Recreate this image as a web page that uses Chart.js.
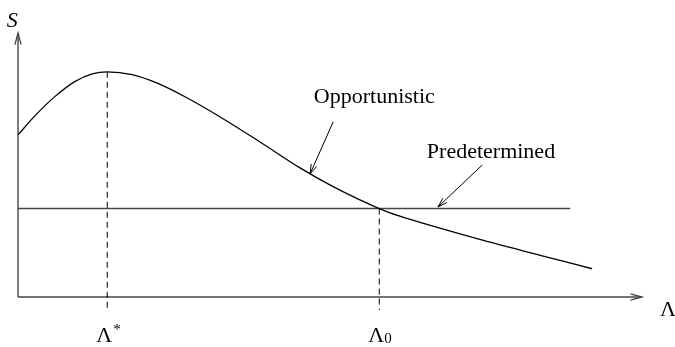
<!DOCTYPE html>
<html>
<head>
<meta charset="utf-8">
<script src="https://cdn.jsdelivr.net/npm/chart.js@4/dist/chart.umd.min.js"></script>
<style>
    html, body { margin: 0; padding: 0; background: #ffffff; }
    #wrap { width: 675px; height: 347px; position: relative; }
</style>
</head>
<body>
<div id="wrap"><canvas id="chart"></canvas></div>
<script>
// Opportunistic curve S(Λ) (axis units 0..10)
const lambdaValues = [0, 0.27, 0.59, 0.91, 1.19, 1.43, 1.83, 2.24, 2.72, 3.24, 3.88, 4.52, 5.05, 5.79, 6.12, 6.65, 7.40, 8.37, 9.20];
const opportunisticS = [6.14, 6.86, 7.59, 8.16, 8.45, 8.53, 8.42, 8.09, 7.53, 6.82, 5.87, 4.89, 4.18, 3.35, 3.06, 2.68, 2.18, 1.58, 1.07];

// Predetermined is flat
const predeterminedS = 3.35;
const predeterminedEnd = 8.85;

// Marked points on the Λ axis
const lambdaStar = 1.43;
const lambdaZero = 5.79;
const dashBottom = -0.49;

const axisMax = 10;

function pairs(xs, ys) {
    return xs.map(function (x, i) { return { x: x, y: ys[i] }; });
}

const lineFont = '"Liberation Serif", "DejaVu Serif", serif';

// Text labels and pointer arrows, in data units
const textLabels = [
    { text: 'Opportunistic', x: 5.71, y: 7.35, align: 'center', style: '' },
    { text: 'Predetermined', x: 7.58, y: 5.27, align: 'center', style: '' },
    { text: 'S', x: -0.18, y: 10.23, align: 'left', style: 'italic ' },
    { text: 'Λ', x: 10.29, y: -0.72, align: 'left', style: '' }
];
const pointerArrows = [
    { from: [5.05, 6.63], to: [4.68, 4.66] },
    { from: [7.44, 5.00], to: [6.73, 3.41] }
];

function openHead(ctx, x1, y1, x2, y2, len, spread) {
    const a = Math.atan2(y2 - y1, x2 - x1);
    ctx.beginPath();
    ctx.moveTo(x2 - len * Math.cos(a - spread), y2 - len * Math.sin(a - spread));
    ctx.lineTo(x2, y2);
    ctx.lineTo(x2 - len * Math.cos(a + spread), y2 - len * Math.sin(a + spread));
    ctx.stroke();
}

const annotations = {
    id: 'annotations',
    afterDatasetsDraw: function (chart) {
        const ctx = chart.ctx;
        const xs = chart.scales.x;
        const ys = chart.scales.y;
        ctx.save();

        // axis arrowheads
        ctx.strokeStyle = '#444';
        ctx.lineWidth = 1.3;
        openHead(ctx, xs.getPixelForValue(0), ys.getPixelForValue(0),
            xs.getPixelForValue(axisMax), ys.getPixelForValue(0), 12, 0.26);
        openHead(ctx, xs.getPixelForValue(0), ys.getPixelForValue(0),
            xs.getPixelForValue(0), ys.getPixelForValue(axisMax), 12, 0.26);

        // pointer arrows
        ctx.strokeStyle = '#000';
        ctx.lineWidth = 1;
        pointerArrows.forEach(function (a) {
            const x1 = xs.getPixelForValue(a.from[0]);
            const y1 = ys.getPixelForValue(a.from[1]);
            const x2 = xs.getPixelForValue(a.to[0]);
            const y2 = ys.getPixelForValue(a.to[1]);
            ctx.beginPath();
            ctx.moveTo(x1, y1);
            ctx.lineTo(x2, y2);
            ctx.stroke();
            openHead(ctx, x1, y1, x2, y2, 10, 0.3);
        });

        // labels
        ctx.fillStyle = '#000';
        ctx.textBaseline = 'alphabetic';
        textLabels.forEach(function (t) {
            ctx.font = t.style + '22px ' + lineFont;
            ctx.textAlign = t.align;
            ctx.fillText(t.text, xs.getPixelForValue(t.x), ys.getPixelForValue(t.y));
        });

        // Λ* and Λ0 under the dashed lines
        const base = ys.getPixelForValue(-1.71);
        const marks = [
            { x: lambdaStar, sup: '*', sub: '' },
            { x: lambdaZero, sup: '', sub: '0' }
        ];
        marks.forEach(function (m) {
            const px = xs.getPixelForValue(m.x) - 3;
            ctx.font = '22px ' + lineFont;
            ctx.textAlign = 'center';
            ctx.fillText('Λ', px, base);
            const w = ctx.measureText('Λ').width;
            ctx.font = '15px ' + lineFont;
            ctx.textAlign = 'left';
            if (m.sup) ctx.fillText(m.sup, px + w / 2 + 1, base - 8);
            if (m.sub) ctx.fillText(m.sub, px + w / 2, base + 1);
        });

        ctx.restore();
    }
};

const plain = { pointRadius: 0, showLine: true, clip: false, fill: false };

new Chart(document.getElementById('chart'), {
    type: 'scatter',
    data: {
        datasets: [
            Object.assign({
                label: 'Opportunistic',
                data: pairs(lambdaValues, opportunisticS),
                borderColor: '#000',
                borderWidth: 1.3,
                cubicInterpolationMode: 'monotone'
            }, plain),
            Object.assign({
                label: 'Predetermined',
                data: [{ x: 0, y: predeterminedS }, { x: predeterminedEnd, y: predeterminedS }],
                borderColor: '#444',
                borderWidth: 1.4
            }, plain),
            Object.assign({
                label: 'Λ*',
                data: [{ x: lambdaStar, y: opportunisticS[lambdaValues.indexOf(lambdaStar)] }, { x: lambdaStar, y: dashBottom }],
                borderColor: '#000',
                borderWidth: 1,
                borderDash: [6, 4]
            }, plain),
            Object.assign({
                label: 'Λ0',
                data: [{ x: lambdaZero, y: predeterminedS }, { x: lambdaZero, y: dashBottom }],
                borderColor: '#000',
                borderWidth: 1,
                borderDash: [6, 4]
            }, plain),
            Object.assign({
                label: 'x axis',
                data: [{ x: 0, y: 0 }, { x: axisMax, y: 0 }],
                borderColor: '#444',
                borderWidth: 1.4
            }, plain),
            Object.assign({
                label: 'y axis',
                data: [{ x: 0, y: 0 }, { x: 0, y: axisMax }],
                borderColor: '#444',
                borderWidth: 1.4
            }, plain)
        ]
    },
    options: {
        responsive: true,
        maintainAspectRatio: false,
        animation: false,
        layout: { padding: { left: 18, right: 33, top: 33, bottom: 50 } },
        plugins: {
            legend: { display: false },
            tooltip: { enabled: false }
        },
        scales: {
            x: { type: 'linear', min: 0, max: axisMax, display: false },
            y: { type: 'linear', min: 0, max: axisMax, display: false }
        }
    },
    plugins: [annotations]
});
</script>
</body>
</html>
